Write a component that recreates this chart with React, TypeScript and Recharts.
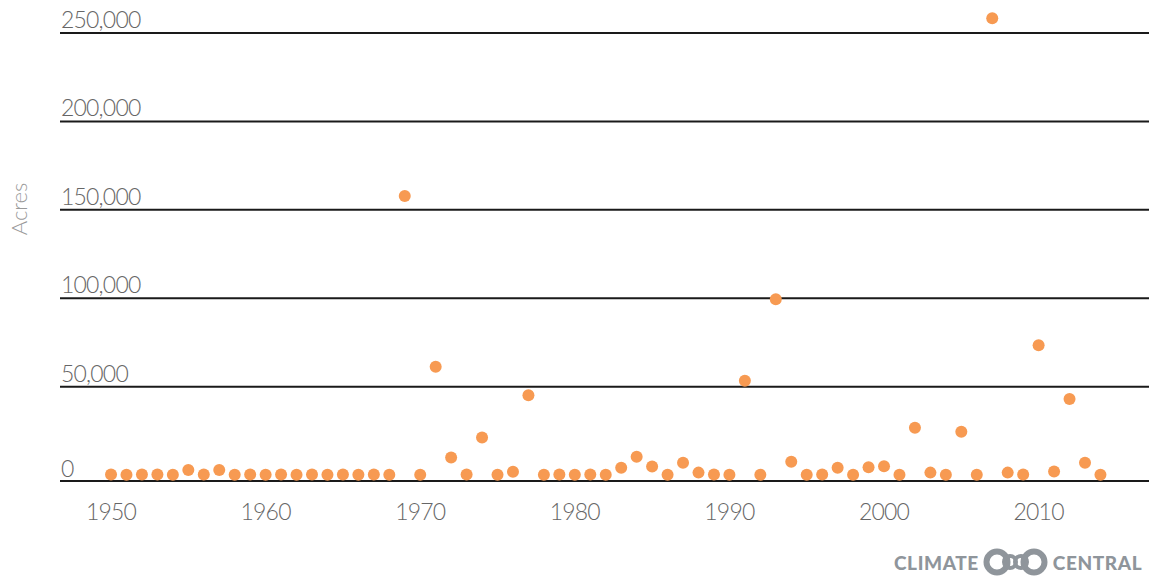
import {
  ReferenceLine,
  Scatter,
  ScatterChart,
  XAxis,
  YAxis,
} from "recharts";

// years 1950..2014, acres burned
const years = [
  1950, 1951, 1952, 1953, 1954, 1955, 1956, 1957, 1958, 1959,
  1960, 1961, 1962, 1963, 1964, 1965, 1966, 1967, 1968, 1969,
  1970, 1971, 1972, 1973, 1974, 1975, 1976, 1977, 1978, 1979,
  1980, 1981, 1982, 1983, 1984, 1985, 1986, 1987, 1988, 1989,
  1990, 1991, 1992, 1993, 1994, 1995, 1996, 1997, 1998, 1999,
  2000, 2001, 2002, 2003, 2004, 2005, 2006, 2007, 2008, 2009,
  2010, 2011, 2012, 2013, 2014,
];

const acres = [
  300, 200, 400, 300, 200, 2900, 300, 2900, 200, 300,
  200, 300, 200, 300, 200, 300, 200, 300, 200, 157800,
  200, 61300, 9900, 300, 21200, 200, 1900, 45100, 200, 300,
  200, 300, 200, 4200, 10400, 4800, 200, 7000, 1400, 300,
  200, 53400, 200, 99400, 7600, 200, 300, 4200, 200, 4400,
  5000, 200, 26800, 1400, 200, 24500, 200, 258300, 1400, 300,
  73400, 2000, 43000, 7000, 200,
];

const yTicks = [0, 50000, 100000, 150000, 200000, 250000];
const xTicks = [1950, 1960, 1970, 1980, 1990, 2000, 2010];

const data = years.map((year, i) => ({ year, acres: acres[i] }));

const PLOT_LEFT = 60;

const tickFont = {
  fontFamily: "Lato, 'Open Sans', sans-serif",
  fontWeight: 300,
  fontSize: 23,
  letterSpacing: -0.8,
};

function YTick(props: any) {
  const { y, payload } = props;
  const v = payload.value as number;
  return (
    <text
      x={PLOT_LEFT + 1}
      y={v === 0 ? y + 2 : y - 5}
      textAnchor="start"
      fill="#666"
      style={tickFont}
    >
      {v.toLocaleString("en-US")}
    </text>
  );
}

function XTick(props: any) {
  const { x, y, payload } = props;
  return (
    <text x={x} y={y + 39} textAnchor="middle" fill="#666" style={tickFont}>
      {payload.value}
    </text>
  );
}

function Dot(props: any) {
  return <circle cx={props.cx} cy={props.cy} r={6} fill="#f79a52" />;
}

export default function App() {
  return (
    <div style={{ position: "absolute", left: 0, top: 0, width: 1149, height: 577 }}>
      <ScatterChart
        width={1149}
        height={577}
        margin={{ top: 10, right: 0, bottom: 56, left: PLOT_LEFT - 1 }}
      >
        <XAxis
          type="number"
          dataKey="year"
          domain={[1946.7, 2017.14]}
          ticks={xTicks}
          allowDataOverflow
          height={40}
          tickLine={false}
          tickSize={0}
          tickMargin={0}
          axisLine={{ stroke: "#1a1a1a", strokeWidth: 2 }}
          tick={<XTick />}
        />
        <YAxis
          type="number"
          dataKey="acres"
          domain={[-3340, 263000]}
          ticks={yTicks}
          allowDataOverflow
          width={1}
          axisLine={false}
          tickLine={false}
          tick={<YTick />}
        />
        {yTicks
          .filter((t) => t > 0)
          .map((t) => (
            <ReferenceLine key={t} y={t} stroke="#1a1a1a" strokeWidth={2} />
          ))}
        <Scatter data={data} shape={<Dot />} isAnimationActive={false} />
      </ScatterChart>

      <div
        style={{
          position: "absolute",
          left: 18,
          top: 209,
          transform: "translate(-50%, -50%) rotate(-90deg)",
          fontFamily: "Lato, sans-serif",
          fontWeight: 300,
          fontSize: 22,
          color: "#999",
          whiteSpace: "nowrap",
        }}
      >
        Acres
      </div>

      <div
        style={{
          position: "absolute",
          left: 894,
          top: 548,
          height: 28,
          display: "flex",
          alignItems: "center",
          fontFamily: "Lato, sans-serif",
          fontWeight: 900,
          fontSize: 19,
          letterSpacing: 0.6,
          color: "#8f959b",
        }}
      >
        <span>CLIMATE</span>
        <svg width={70} height={28} style={{ margin: "0 2px" }}>
          <circle cx={16} cy={14} r={10.5} fill="none" stroke="#8f959b" strokeWidth={6} />
          <circle cx={53} cy={14} r={10.5} fill="none" stroke="#8f959b" strokeWidth={6} />
          <circle cx={29} cy={14} r={6} fill="none" stroke="#8f959b" strokeWidth={4} />
          <circle cx={40} cy={14} r={6} fill="none" stroke="#8f959b" strokeWidth={4} />
        </svg>
        <span>CENTRAL</span>
      </div>
    </div>
  );
}
